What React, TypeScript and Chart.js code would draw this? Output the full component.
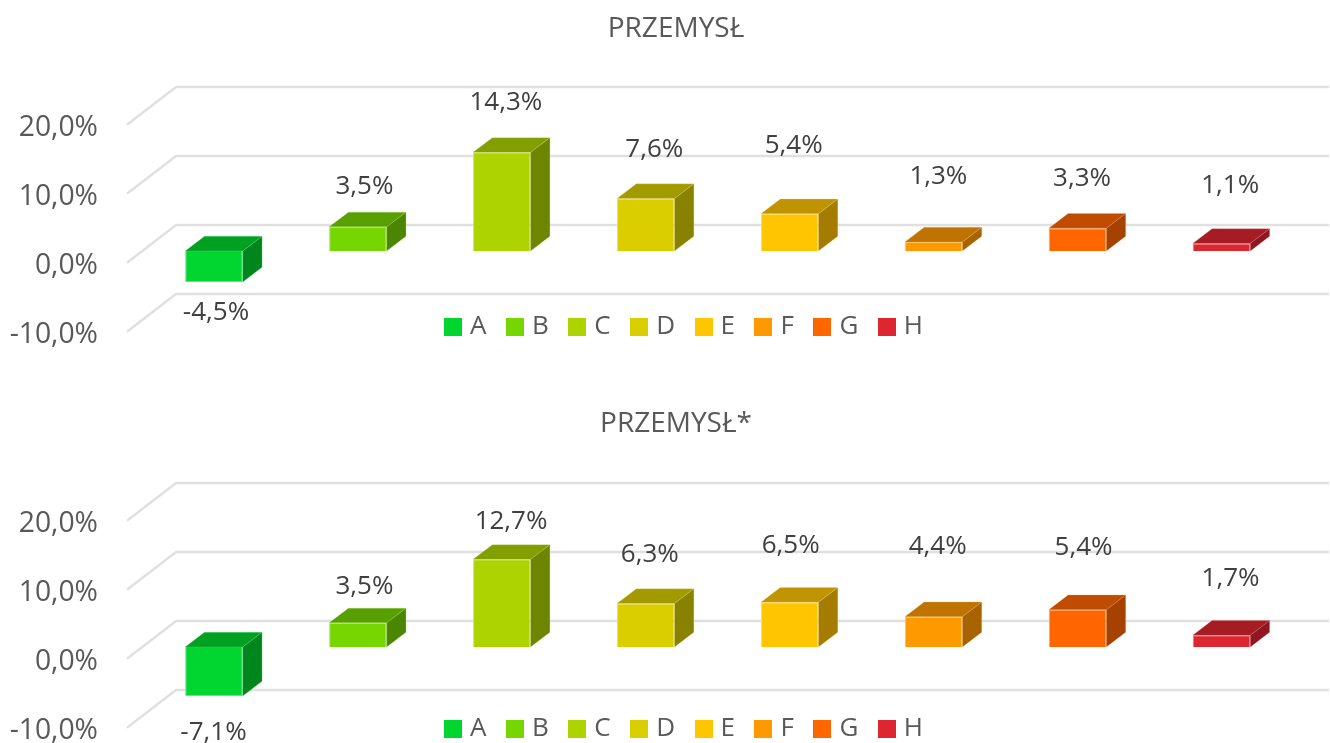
import React, { useEffect, useRef } from "react";
import { Chart, registerables } from "chart.js";

Chart.register(...registerables);

const categories = ["A", "B", "C", "D", "E", "F", "G", "H"];
const colors = ["#00D62F", "#76D600", "#AED400", "#DACE00", "#FFC600", "#FF9900", "#FF6600", "#DC2630"];
const edgeColors = ["#66E682", "#ADE666", "#CEE566", "#E9E266", "#FFDD66", "#FFC266", "#FFA366", "#EA7D84"];
const topColors = ["#00A023", "#58A000", "#829F00", "#A39A00", "#BF9400", "#BF7300", "#BF4C00", "#A51C24"];
const sideColors = ["#00861D", "#4A8600", "#6D8500", "#898100", "#A67C00", "#A66300", "#A64200", "#8F1820"];

const title1 = "PRZEMYSŁ";
const values1 = [-4.5, 3.5, 14.3, 7.6, 5.4, 1.3, 3.3, 1.1];
const labelShiftX1 = [2, 6.5, 4, 8.5, 4, 4.7, 4.5, 8.7];
const labelShiftY1 = [30.7, -39.9, -49.3, -48.6, -67.7, -65, -49.5, -58];

const title2 = "PRZEMYSŁ*";
const values2 = [-7.1, 3.5, 12.7, 6.3, 6.5, 4.4, 5.4, 1.7];
const labelShiftX2 = [-0.5, 6.5, 9.2, 4, 1, 4, 6, 9];
const labelShiftY2 = [36.7, -36.5, -37.4, -48.8, -56.2, -69.6, -62, -56.6];

const axisMin = -10;
const axisMax = 20;
const axisStep = 10;

const FONT = "'Open Sans'";
const fmt = (v: number) => v.toFixed(1).replace(".", ",") + "%";

const depthX = 19.3;
const depthY = 14.7;

function swatch(color: string) {
  const c = document.createElement("canvas");
  c.width = 18;
  c.height = 18;
  const g = c.getContext("2d") as CanvasRenderingContext2D;
  g.fillStyle = color;
  g.fillRect(0, 0, 18, 18);
  return c;
}

const faces = {
  id: "faces",
  beforeDraw(chart: any, _a: any, opts: any) {
    const legend = chart.legend;
    legend.top = chart.chartArea.bottom + opts.legendDy;
    legend.bottom = legend.top + legend.height;
    legend.left = 21;
    legend.right = 1351;
    chart.titleBlock.left = 22;
    chart.titleBlock.right = 1330;
  },
  beforeDatasetsDraw(chart: any) {
    const { ctx } = chart;
    const y = chart.scales.y;
    ctx.save();
    ctx.strokeStyle = "#e0e0e0";
    ctx.lineWidth = 2.4;
    y.ticks.forEach((t: any) => {
      const p = y.getPixelForValue(t.value);
      ctx.beginPath();
      ctx.moveTo(127, p + 11.7);
      ctx.lineTo(176, p - 26);
      ctx.lineTo(1329, p - 26);
      ctx.stroke();
    });
    ctx.restore();
  },
  afterDatasetsDraw(chart: any, _a: any, opts: any) {
    const { ctx } = chart;
    chart.data.datasets.forEach((_d: any, i: number) => {
      const bar = chart.getDatasetMeta(i).data[0];
      const l = bar.x - bar.width / 2;
      const r = bar.x + bar.width / 2;
      const t = Math.min(bar.y, bar.base);
      const b = Math.max(bar.y, bar.base);
      ctx.save();
      ctx.lineWidth = 1;
      ctx.strokeStyle = edgeColors[i] + "40";
      ctx.fillStyle = topColors[i];
      ctx.beginPath();
      ctx.moveTo(l, t);
      ctx.lineTo(l + depthX, t - depthY);
      ctx.lineTo(r + depthX, t - depthY);
      ctx.lineTo(r, t);
      ctx.closePath();
      ctx.fill();
      ctx.stroke();
      ctx.fillStyle = sideColors[i];
      ctx.beginPath();
      ctx.moveTo(r, t);
      ctx.lineTo(r + depthX, t - depthY);
      ctx.lineTo(r + depthX, b - depthY);
      ctx.lineTo(r, b);
      ctx.closePath();
      ctx.fill();
      ctx.stroke();
      ctx.fillStyle = "#404040";
      ctx.font = `26px ${FONT}`;
      ctx.textAlign = "center";
      ctx.textBaseline = "middle";
      ctx.fillText(fmt(chart.data.datasets[i].data[0]), bar.x + opts.shiftX[i], bar.y + opts.shiftY[i]);
      ctx.restore();
    });
  },
};

function makeConfig(title: string, values: number[], shiftX: number[], shiftY: number[], titleTop: number, legendDy: number): any {
  return {
    type: "bar",
    plugins: [faces],
    data: {
      labels: [""],
      datasets: categories.map((c, i) => ({
        label: c,
        data: [values[i]],
        backgroundColor: colors[i],
        borderColor: edgeColors[i],
        borderWidth: 1,
        barPercentage: 0.4,
        categoryPercentage: 1,
      })),
    },
    options: {
      animation: false,
      responsive: false,
      layout: { padding: { left: 0, right: 36.5, top: 0, bottom: 19.5 } },
      plugins: {
        tooltip: { enabled: false },
        faces: { shiftX, shiftY, legendDy },
        title: {
          display: true,
          text: title,
          color: "#595959",
          font: { family: FONT, size: 28, weight: "normal", lineHeight: 1.2 },
          padding: { top: titleTop, bottom: 113 - titleTop - 33.6 },
        },
        legend: {
          display: true,
          position: "bottom",
          labels: {
            color: "#595959",
            font: { family: FONT, size: 26 },
            usePointStyle: true,
            boxWidth: 8,
            boxHeight: 18,
            padding: 24.5,
            generateLabels(chart: any) {
              return Chart.defaults.plugins.legend.labels.generateLabels(chart).map((item: any, i: number) => ({
                ...item,
                pointStyle: swatch(colors[i]),
              }));
            },
          },
        },
      },
      scales: {
        x: { display: false, grid: { display: false } },
        y: {
          min: axisMin,
          max: axisMax,
          afterFit(s: any) {
            s.width = 142;
          },
          grid: { display: false, drawTicks: false },
          border: { display: false },
          ticks: {
            stepSize: axisStep,
            padding: 44,
            labelOffset: 14.7,
            color: "#595959",
            font: { family: FONT, size: 28.3 },
            callback: (v: number) => fmt(v),
          },
        },
      },
    },
  };
}

function Panel({ top, config }: { top: number; config: any }) {
  const ref = useRef<HTMLCanvasElement>(null);
  useEffect(() => {
    const chart = new Chart(ref.current as HTMLCanvasElement, config);
    return () => chart.destroy();
  }, []);
  return <canvas ref={ref} width={1330} height={400} style={{ position: "absolute", left: 0, top, width: 1330, height: 400 }} />;
}

export default function App() {
  return (
    <div style={{ position: "fixed", left: 0, top: 0, width: 1330, height: 743, overflow: "hidden", background: "#fff" }}>
      <Panel top={0} config={makeConfig(title1, values1, labelShiftX1, labelShiftY1, 12.2, -30.5)} />
      <Panel top={396} config={makeConfig(title2, values2, labelShiftX2, labelShiftY2, 11.2, -24.5)} />
    </div>
  );
}
